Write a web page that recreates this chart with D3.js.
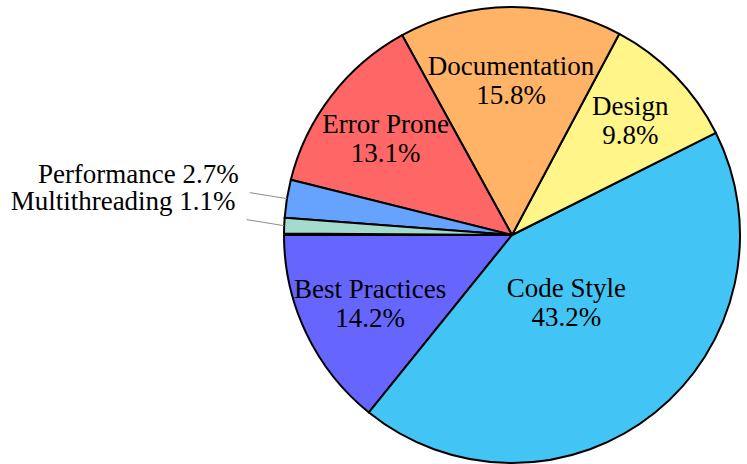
<!DOCTYPE html>
<html>
<head>
<meta charset="utf-8">
<script src="https://cdn.jsdelivr.net/npm/d3@7"></script>
<style>
  body { margin: 0; background: #fff; }
  svg { display: block; }
</style>
</head>
<body>
<div id="chart"></div>
<script>
// Pie data (percent), in drawing order starting at 9 o'clock, counterclockwise
const categories = ['Best Practices', 'Code Style', 'Design', 'Documentation', 'Error Prone', 'Performance', 'Multithreading'];
const values = [14.2, 43.2, 9.8, 15.8, 13.1, 2.7, 1.1];
const colors = ['#6666ff', '#42c5f5', '#fff588', '#ffb366', '#ff6666', '#66a3ff', '#a3dccc'];
// slices too thin for an inside label
const outside = ['Performance', 'Multithreading'];

const width = 747, height = 464;
const cx = 512, cy = 235, radius = 228;
// label distance from centre, as a fraction of the radius (default 0.7)
const labelRadius = { 'Code Style': 0.38, 'Design': 0.725, 'Documentation': 0.68, 'Best Practices': 0.69 };

const svg = d3.select('#chart').append('svg')
  .attr('width', width)
  .attr('height', height)
  .attr('font-family', 'Liberation Serif')
  .attr('font-size', 27);

const g = svg.append('g').attr('transform', `translate(${cx},${cy})`);

const data = categories.map((c, i) => ({ name: c, value: values[i], color: colors[i] }));
const total = d3.sum(values);

// d3 angles: 0 at 12 o'clock, clockwise. Start at 9 o'clock and go counterclockwise.
const start = -Math.PI / 2;
const pie = d3.pie()
  .sort(null)
  .value(d => d.value)
  .startAngle(start)
  .endAngle(start - 2 * Math.PI * total / 100);

const arcs = pie(data);
const arc = d3.arc().innerRadius(0).outerRadius(radius);

g.selectAll('path.slice')
  .data(arcs)
  .join('path')
  .attr('class', 'slice')
  .attr('d', arc)
  .attr('fill', d => d.data.color)
  .attr('stroke', '#000')
  .attr('stroke-width', 2)
  .attr('stroke-linejoin', 'round');

// inside labels: two lines, centred on a point along the mid angle
const lineH = 29;
const inside = arcs.filter(d => !outside.includes(d.data.name));
const labels = g.selectAll('text.inlabel')
  .data(inside)
  .join('text')
  .attr('class', 'inlabel')
  .attr('text-anchor', 'middle')
  .attr('transform', d => {
    const r = radius * (labelRadius[d.data.name] || 0.7);
    const a = (d.startAngle + d.endAngle) / 2;
    return `translate(${r * Math.sin(a)},${-r * Math.cos(a)})`;
  });
labels.append('tspan').attr('x', 0).attr('y', -lineH / 2 + 9.5).text(d => d.data.name);
labels.append('tspan').attr('x', 0).attr('y', lineH / 2 + 9.5).text(d => d3.format('.1f')(d.data.value) + '%');

// outside labels with leader lines, stacked at a fixed spacing
const outArcs = arcs.filter(d => outside.includes(d.data.name)).map(d => {
  const a = (d.startAngle + d.endAngle) / 2;
  const r2 = radius * 1.165;
  return {
    d,
    x1: radius * Math.sin(a), y1: -radius * Math.cos(a),
    x2: r2 * Math.sin(a), y2: -r2 * Math.cos(a)
  };
});
outArcs.sort((a, b) => a.y2 - b.y2);
for (let i = 1; i < outArcs.length; i++) {
  outArcs[i].y2 = outArcs[i - 1].y2 + 27;
}

g.selectAll('line.leader')
  .data(outArcs)
  .join('line')
  .attr('class', 'leader')
  .attr('x1', d => d.x1).attr('y1', d => d.y1)
  .attr('x2', d => d.x2).attr('y2', d => d.y2)
  .attr('stroke', '#8c8c8c')
  .attr('stroke-width', 1);

g.selectAll('text.outlabel')
  .data(outArcs)
  .join('text')
  .attr('class', 'outlabel')
  .attr('text-anchor', 'end')
  .attr('x', d => d.x2 - 11)
  .attr('y', d => d.y2 - 10)
  .text(d => `${d.d.data.name} ${d3.format('.1f')(d.d.data.value)}%`);
</script>
</body>
</html>
